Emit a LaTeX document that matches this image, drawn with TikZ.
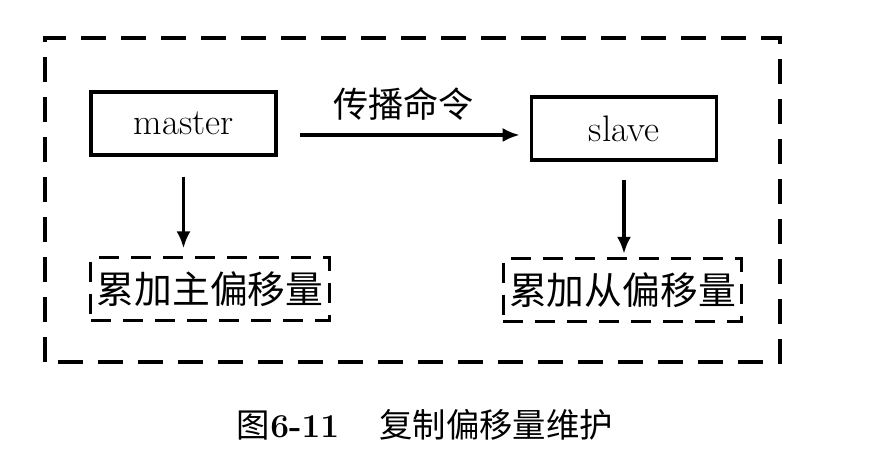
\documentclass[tikz,border=0pt]{standalone}
\usepackage{fontspec}
\newfontfamily\cjk{Noto Sans CJK SC}
\usetikzlibrary{arrows.meta, positioning, calc}

\begin{document}
\begin{tikzpicture}[
    >={Latex[length=0.34cm, width=0.28cm]},
    % Styles
    role/.style={draw, line width=2pt, rectangle, minimum width=3.7cm, minimum height=1.26cm, align=center, font=\fontsize{21}{24}\selectfont},
    offset/.style={draw, line width=1.8pt, dash pattern=on 0.4cm off 0.24cm, rectangle, minimum width=4.7cm, minimum height=1.26cm, align=center, font=\cjk\fontsize{21.5}{25}\selectfont},
    frame/.style={draw, line width=2.3pt, dash pattern=on 0.5cm off 0.3cm},
    link/.style={->, line width=1.9pt}
]
\useasboundingbox (0,0) rectangle (17.74,9.04);

% 1. Outer frame
\draw[frame] (0.9,1.8) rectangle (15.6,8.28);

% 2. Master and slave
\node[role] (master) at (3.67,6.57) {master};
\node[role] (slave) at (12.48,6.47) {slave};

\draw[link, shorten <=0.44cm, shorten >=0.2cm] ([yshift=-0.23cm]master.east) -- node[above=0.14cm, font=\cjk\fontsize{20}{24}\selectfont] (cmd) {传播命令} ([yshift=-0.23cm]master.east -| slave.west);

% 3. Offsets
\node[offset] (masteroff) at (4.2,3.26) {累加主偏移量};
\node[offset] (slaveoff) at (12.45,3.24) {累加从偏移量};

\draw[link, shorten <=0.4cm, shorten >=0.15cm] (master.south) -- (master.south |- masteroff.north);
\draw[link, shorten <=0.36cm, shorten >=0.06cm] (slave.south) -- (slave.south |- slaveoff.north);

% 4. Caption
\node[font=\fontsize{19}{22}\selectfont] (caption) at (8.5,0.54) {{\cjk 图}\textbf{6-11}\hspace{1.2em}{\cjk 复制偏移量维护}};

\end{tikzpicture}
\end{document}
